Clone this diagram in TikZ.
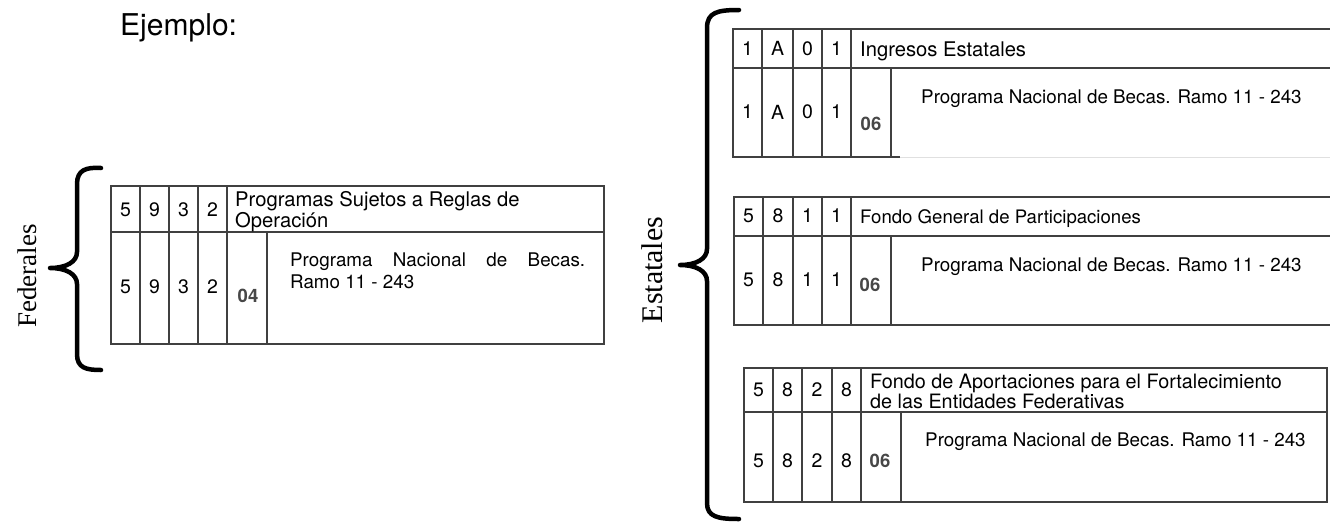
\documentclass[tikz,border=0pt]{standalone}
\usepackage{fontspec}
\setmainfont{TeX Gyre Heros}
\newfontfamily\serifx{Liberation Serif}
\begin{document}
\begin{tikzpicture}[x=1pt,y=-1pt,
  tbl/.style={draw=black!75, line width=1.1pt},
  faint/.style={draw=black!12, line width=1pt},
  cell/.style={font=\fontsize{19.5}{21}\selectfont, inner sep=0pt, anchor=center},
  codebox/.style={font=\bfseries\fontsize{18.5}{20}\selectfont, text=black!72, inner sep=0pt, anchor=center},
  txt/.style={font=\fontsize{18.8}{21}\selectfont, inner sep=0pt, anchor=base west},
  bracepath/.style={line width=4.5pt, line cap=round, line join=round},
  sidelabel/.style={rotate=90, font=\serifx\fontsize{27}{30}\selectfont, inner sep=0pt}]
\useasboundingbox (0,0) rectangle (1330,523);
\fill[white] (0,0) rectangle (1330,523);

% title
\node[anchor=base west, inner sep=0pt, font=\fontsize{30}{32}\selectfont] (ej) at (120,35) {Ejemplo:};

% ---------------- Federales ----------------
\draw[bracepath] (101,168) .. controls (86,167) and (77,170) .. (77,184) -- (77,252)
  .. controls (77,262) and (66,268) .. (50,268) .. controls (66,268) and (77,274) .. (77,284)
  -- (77,354) .. controls (77,368) and (86,370) .. (101,370);
\node[sidelabel] (fed) at (27,276) {Federales};

\draw[tbl] (111,186) rectangle (604,344);
\draw[tbl] (111,232) -- (604,232);
\foreach \x in {140,169,198,227} \draw[tbl] (\x,186) -- (\x,344);
\draw[tbl] (267,232) -- (267,344);
\foreach \x/\d [count=\i] in {125.5/5,154.5/9,183.5/3,212.5/2}{
  \node[cell] (fa\i) at (\x,210) {\d};
  \node[cell] (fb\i) at (\x,287) {\d};
}
\node[codebox] (fcode) at (248,296) {04};
\node[txt, font=\fontsize{20.2}{22}\selectfont] (fh1) at (235,206) {Programas Sujetos a Reglas de};
\node[txt, font=\fontsize{20.2}{22}\selectfont] (fh2) at (235,227) {Operación};
\node[txt] (fp1) at (290,266) {\hbox to 295pt{Programa\hfill Nacional\hfill de\hfill Becas.}};
\node[txt] (fp2) at (290,288) {Ramo 11 - 243};

% ---------------- Estatales ----------------
\draw[bracepath] (739,10) .. controls (718,10) and (707,12) .. (707,28) -- (707,249)
  .. controls (707,259) and (696,265) .. (680,265) .. controls (696,265) and (707,271) .. (707,281)
  -- (707,503) .. controls (707,517) and (718,519) .. (739,519);
\node[sidelabel, font=\serifx\fontsize{30}{32}\selectfont] (est) at (652,270) {Estatales};

% table 1
\draw[tbl] (1330,29) -- (733,29) -- (733,157) -- (900,157);
\draw[faint] (900,157) -- (1330,157);
\draw[tbl] (733,68) -- (1330,68);
\foreach \x in {762,793,822,851} \draw[tbl] (\x,29) -- (\x,157);
\draw[tbl] (891,68) -- (891,157);
\foreach \x/\d [count=\i] in {747.5/1,777.5/A,807.5/0,836.5/1}{
  \node[cell] (aa\i) at (\x,48.5) {\d};
  \node[cell] (ab\i) at (\x,112) {\d};
}
\node[codebox] (acode) at (871,124) {06};
\node[txt, font=\fontsize{20.2}{22}\selectfont] (ah) at (860,56) {Ingresos Estatales};
\node[txt] (ap) at (921,103) {Programa Nacional de Becas. Ramo 11 - 243};

% table 2
\draw[tbl] (1330,197) -- (734,197) -- (734,325) -- (1330,325);
\draw[tbl] (734,236) -- (1330,236);
\foreach \x in {763,793,822,851} \draw[tbl] (\x,197) -- (\x,325);
\draw[tbl] (891,236) -- (891,325);
\foreach \x/\d [count=\i] in {748.5/5,778/8,807.5/1,836.5/1}{
  \node[cell] (ba\i) at (\x,216) {\d};
  \node[cell] (bb\i) at (\x,280) {\d};
}
\node[codebox] (bcode) at (870,285) {06};
\node[txt, font=\fontsize{18.6}{21}\selectfont] (bh) at (860,223) {Fondo General de Participaciones};
\node[txt] (bp) at (921,271) {Programa Nacional de Becas. Ramo 11 - 243};

% table 3
\draw[tbl] (744,368) rectangle (1327,502);
\draw[tbl] (744,412) -- (1327,412);
\foreach \x in {773,802,832,861} \draw[tbl] (\x,368) -- (\x,502);
\draw[tbl] (901,412) -- (901,502);
\foreach \x/\d [count=\i] in {758.5/5,787.5/8,817/2,846.5/8}{
  \node[cell] (ca\i) at (\x,390) {\d};
  \node[cell] (cb\i) at (\x,461) {\d};
}
\node[codebox] (ccode) at (880,461) {06};
\node[txt, font=\fontsize{19.8}{22}\selectfont] (ch1) at (870,388) {Fondo de Aportaciones para el Fortalecimiento};
\node[txt, font=\fontsize{19.8}{22}\selectfont] (ch2) at (870,408) {de las Entidades Federativas};
\node[txt] (cp) at (925,446) {Programa Nacional de Becas. Ramo 11 - 243};
\end{tikzpicture}
\end{document}
